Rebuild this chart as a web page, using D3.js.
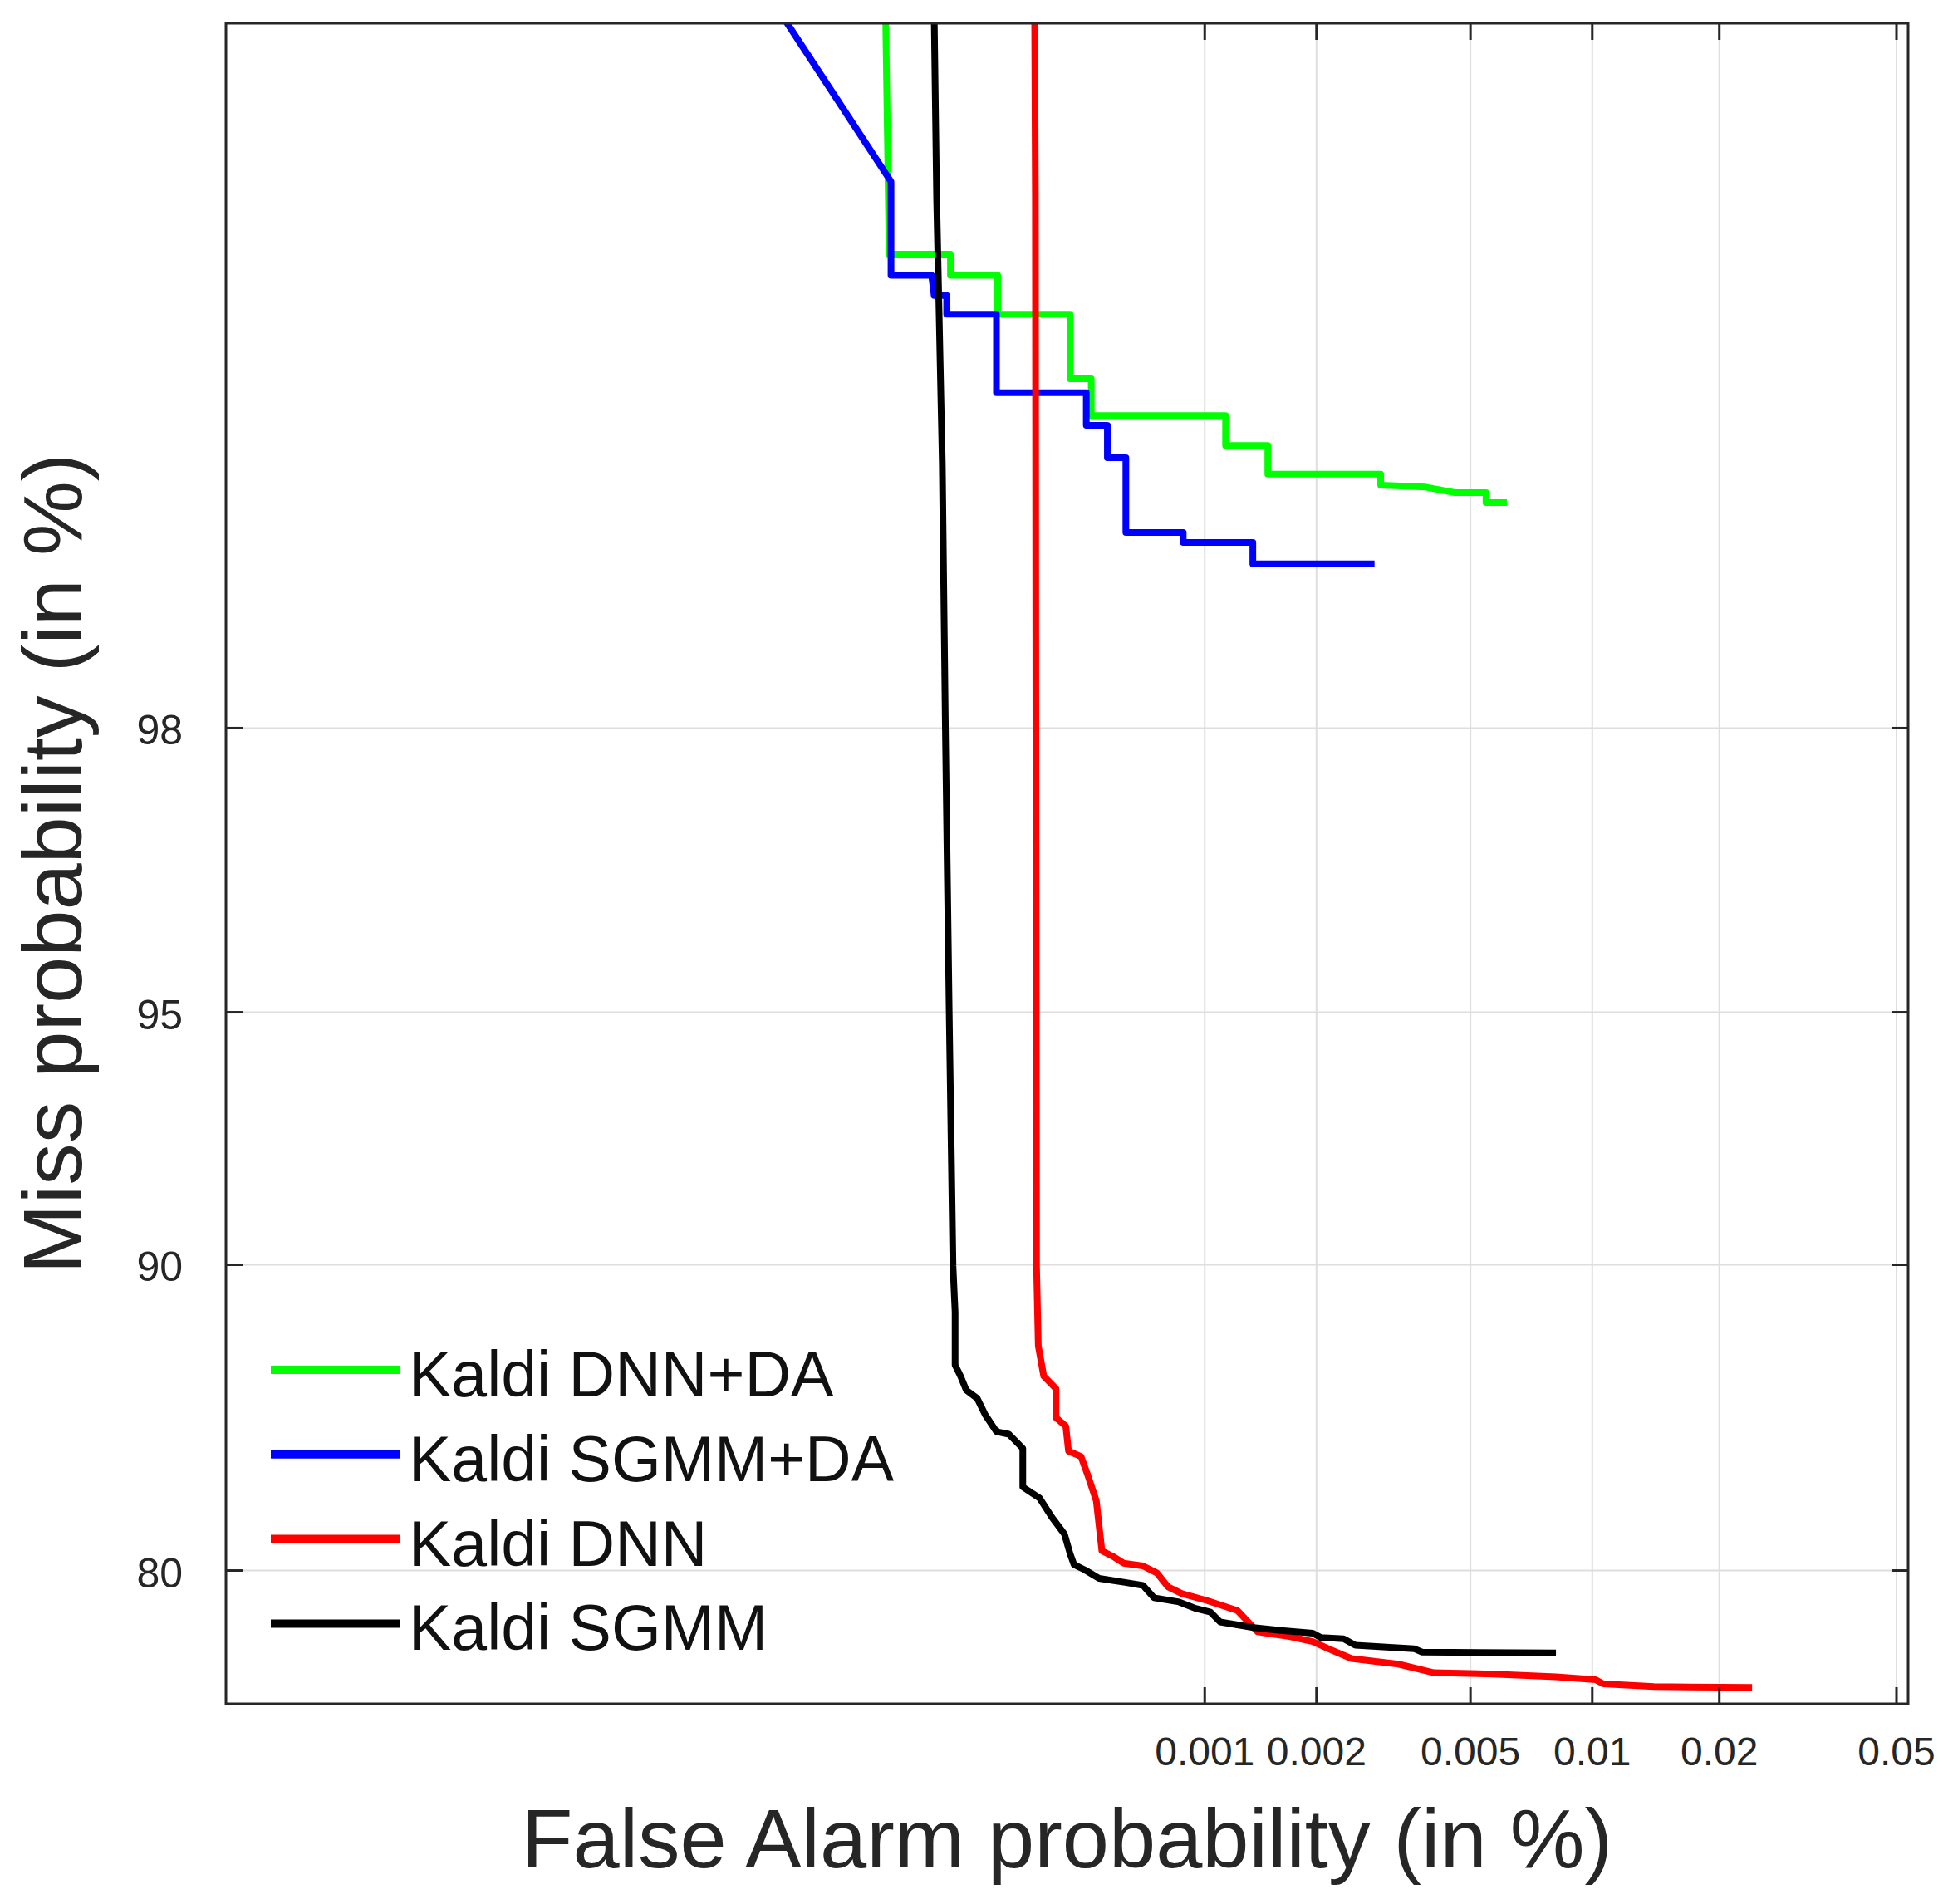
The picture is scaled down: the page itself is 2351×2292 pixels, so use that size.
<!DOCTYPE html>
<html>
<head>
<meta charset="utf-8">
<script src="https://cdn.jsdelivr.net/npm/d3@7"></script>
<style>
  body{margin:0;background:#fff;}
  svg{display:block;}
  text{font-family:"Liberation Sans", Arial, Helvetica, sans-serif;}
</style>
</head>
<body>
<div id="container"></div>
<script>
let w = 2351;
let h = 2292;

// plot box
let x0 = 272, x1 = 2297, y0 = 28, y1 = 2051;

// axis limits (in %)
let faLimits = [8.36e-7, 0.0531];
let missLimits = [74.19, 99.892];

// ticks
let faTicks = [0.001, 0.002, 0.005, 0.01, 0.02, 0.05];
let faTickLabels = ["0.001", "0.002", "0.005", "0.01", "0.02", "0.05"];
let missTicks = [80, 90, 95, 98];
let missTickLabels = ["80", "90", "95", "98"];

// series (false alarm %, miss %)
let seriesNames = ["Kaldi DNN+DA", "Kaldi SGMM+DA", "Kaldi DNN", "Kaldi SGMM"];
let seriesColors = ["#00ff00", "#0000ff", "#ff0000", "#000000"];

let dnnDaFA = [1.215e-4, 1.246e-4, 1.896e-4, 1.896e-4, 2.608e-4, 2.608e-4, 4.213e-4, 4.213e-4, 4.841e-4, 4.841e-4,
  1.143e-3, 1.143e-3, 1.487e-3, 1.487e-3, 2.954e-3, 2.954e-3, 3.857e-3, 4.574e-3, 5.483e-3, 5.483e-3, 6.183e-3];
let dnnDaMiss = [99.9, 99.688, 99.688, 99.658, 99.658, 99.596, 99.596, 99.470, 99.470, 99.384,
  99.384, 99.305, 99.305, 99.221, 99.221, 99.186, 99.180, 99.162, 99.162, 99.129, 99.129];

let sgmmDaFA = [5.935e-5, 1.262e-4, 1.262e-4, 1.668e-4, 1.697e-4, 1.848e-4, 1.848e-4, 2.586e-4, 2.586e-4, 4.687e-4,
  4.687e-4, 5.377e-4, 5.377e-4, 6.061e-4, 6.061e-4, 8.750e-4, 8.750e-4, 1.355e-3, 1.355e-3, 2.847e-3];
let sgmmDaMiss = [99.895, 99.774, 99.658, 99.658, 99.627, 99.627, 99.596, 99.596, 99.439, 99.439,
  99.359, 99.359, 99.270, 99.270, 99.022, 99.022, 98.984, 98.984, 98.897, 98.897];

let dnnFA = [3.336e-4, 3.353e-4, 3.364e-4, 3.378e-4, 3.418e-4, 3.543e-4, 3.843e-4, 3.843e-4, 4.098e-4, 4.172e-4,
  4.529e-4, 4.741e-4, 5.004e-4, 5.188e-4, 5.568e-4, 5.974e-4, 6.766e-4, 7.392e-4, 7.937e-4, 8.680e-4,
  1.018e-3, 1.231e-3, 1.397e-3, 1.702e-3, 1.960e-3, 2.154e-3, 2.477e-3, 3.282e-3, 4.049e-3, 5.718e-3,
  8.176e-3, 1.021e-2, 1.066e-2, 1.409e-2, 2.385e-2];
let dnnMiss = [99.897, 99.757, 97.996, 89.96, 87.786, 86.879, 86.490, 85.561, 85.287, 84.444,
  84.252, 83.573, 82.671, 80.772, 80.550, 80.277, 80.168, 79.888, 79.321, 79.036,
  78.749, 78.330, 77.419, 77.215, 76.994, 76.685, 76.249, 76.0, 75.616, 75.554,
  75.429, 75.299, 75.107, 74.983, 74.943];

let sgmmFA = [1.697e-4, 1.726e-4, 1.794e-4, 1.832e-4, 1.880e-4, 1.929e-4, 1.957e-4, 1.957e-4, 2.030e-4, 2.110e-4,
  2.272e-4, 2.400e-4, 2.586e-4, 2.811e-4, 3.084e-4, 3.084e-4, 3.448e-4, 3.742e-4, 4.061e-4, 4.213e-4,
  4.325e-4, 4.653e-4, 5.093e-4, 6.085e-4, 6.766e-4, 7.264e-4, 8.523e-4, 9.412e-4, 1.040e-3, 1.105e-3,
  1.360e-3, 1.612e-3, 1.960e-3, 2.055e-3, 2.364e-3, 2.537e-3, 3.602e-3, 3.776e-3, 8.176e-3];
let sgmmMiss = [99.897, 99.757, 99.252, 97.996, 95.0, 89.96, 88.741, 87.214, 86.879, 86.447,
  86.187, 85.652, 85.102, 85.016, 84.538, 83.178, 82.773, 82.051, 81.421, 80.663,
  80.223, 80.0, 79.663, 79.490, 79.378, 78.864, 78.691, 78.435, 78.262, 77.844,
  77.602, 77.478, 77.360, 77.177, 77.118, 76.834, 76.685, 76.536, 76.497];

let seriesFA = [dnnDaFA, sgmmDaFA, dnnFA, sgmmFA];
let seriesMiss = [dnnDaMiss, sgmmDaMiss, dnnMiss, sgmmMiss];

// inverse of the normal cdf (Acklam)
function probit(p){
  let a = [-3.969683028665376e+01, 2.209460984245205e+02, -2.759285104469687e+02, 1.383577518672690e+02, -3.066479806614716e+01, 2.506628277459239e+00];
  let b = [-5.447609879822406e+01, 1.615858368580409e+02, -1.556989798598866e+02, 6.680131188771972e+01, -1.328068155288572e+01];
  let c = [-7.784894002430293e-03, -3.223964580411365e-01, -2.400758277161838e+00, -2.549732539343734e+00, 4.374664141464968e+00, 2.938163982698783e+00];
  let d = [7.784695709041462e-03, 3.224671290700398e-01, 2.445134137142996e+00, 3.754408145901500e+00];
  let pl = 0.02425;
  let q, r;
  if(p < pl){
    q = Math.sqrt(-2*Math.log(p));
    return (((((c[0]*q+c[1])*q+c[2])*q+c[3])*q+c[4])*q+c[5]) / ((((d[0]*q+d[1])*q+d[2])*q+d[3])*q+1);
  }
  if(p > 1-pl){
    q = Math.sqrt(-2*Math.log(1-p));
    return -(((((c[0]*q+c[1])*q+c[2])*q+c[3])*q+c[4])*q+c[5]) / ((((d[0]*q+d[1])*q+d[2])*q+d[3])*q+1);
  }
  q = p - 0.5;
  r = q*q;
  return (((((a[0]*r+a[1])*r+a[2])*r+a[3])*r+a[4])*r+a[5])*q / (((((b[0]*r+b[1])*r+b[2])*r+b[3])*r+b[4])*r+1);
}

let viz = d3.select("#container")
  .append("svg")
    .attr("width", w)
    .attr("height", h)
    .style("background-color", "#ffffff")
;

// normal deviate scales
let x = d3.scaleLinear()
  .domain(faLimits.map(v => probit(v/100)))
  .range([x0, x1]);
let y = d3.scaleLinear()
  .domain(missLimits.map(v => probit(v/100)))
  .range([y1, y0]);

let xTickVals = faTicks.map(v => probit(v/100));
let yTickVals = missTicks.map(v => probit(v/100));

// grid
viz.append("g")
  .attr("transform", "translate(0," + y1 + ")")
  .call(d3.axisBottom(x).tickValues(xTickVals).tickFormat("").tickSize(-(y1-y0)))
  .call(g => g.select(".domain").remove())
  .call(g => g.selectAll("line").attr("stroke", "#dedede").attr("stroke-width", 2));
viz.append("g")
  .attr("transform", "translate(" + x0 + ",0)")
  .call(d3.axisLeft(y).tickValues(yTickVals).tickFormat("").tickSize(-(x1-x0)))
  .call(g => g.select(".domain").remove())
  .call(g => g.selectAll("line").attr("stroke", "#dedede").attr("stroke-width", 2));

// curves
viz.append("clipPath").attr("id", "plotclip")
  .append("rect")
    .attr("x", x0).attr("y", y0)
    .attr("width", x1-x0).attr("height", y1-y0);

let line = d3.line()
  .x(d => x(probit(d[0]/100)))
  .y(d => y(probit(d[1]/100)));

let curves = viz.append("g").attr("clip-path", "url(#plotclip)");
seriesNames.forEach(function(name, i){
  let pts = seriesFA[i].map((v, j) => [v, seriesMiss[i][j]]);
  curves.append("path")
    .datum(pts)
    .attr("d", line)
    .attr("fill", "none")
    .attr("stroke", seriesColors[i])
    .attr("stroke-width", 8)
    .attr("stroke-linejoin", "round")
    .attr("stroke-linecap", "butt");
});

// axes with inward ticks
function styleAxis(g){
  g.select(".domain").remove();
  g.selectAll(".tick line").attr("stroke", "#262626").attr("stroke-width", 3);
  g.selectAll(".tick text").attr("fill", "#262626");
}

viz.append("g")
  .attr("transform", "translate(0," + y1 + ")")
  .call(d3.axisBottom(x).tickValues(xTickVals).tickFormat((d, i) => faTickLabels[i]).tickSize(-20).tickPadding(40))
  .call(styleAxis)
  .call(g => g.selectAll(".tick text").style("font-size", "48px"));

viz.append("g")
  .attr("transform", "translate(0," + y0 + ")")
  .call(d3.axisTop(x).tickValues(xTickVals).tickFormat("").tickSize(-20))
  .call(styleAxis);

viz.append("g")
  .attr("transform", "translate(" + x0 + ",0)")
  .call(d3.axisLeft(y).tickValues(yTickVals).tickFormat((d, i) => missTickLabels[i]).tickSize(-20).tickPadding(52))
  .call(styleAxis)
  .call(g => g.selectAll(".tick text").style("font-size", "50px").attr("dy", "0.4em"));

viz.append("g")
  .attr("transform", "translate(" + x1 + ",0)")
  .call(d3.axisRight(y).tickValues(yTickVals).tickFormat("").tickSize(-20))
  .call(styleAxis);

// box
viz.append("rect")
  .attr("x", x0).attr("y", y0)
  .attr("width", x1-x0).attr("height", y1-y0)
  .attr("fill", "none")
  .attr("stroke", "#262626")
  .attr("stroke-width", 3);

// axis titles
viz.append("text")
  .attr("x", (x0+x1)/2)
  .attr("y", 2248)
  .attr("text-anchor", "middle")
  .attr("fill", "#262626")
  .style("font-size", "101px")
  .text("False Alarm probability (in %)");

viz.append("text")
  .attr("transform", "translate(98," + (y0+y1)/2 + ") rotate(-90)")
  .attr("text-anchor", "middle")
  .attr("fill", "#262626")
  .style("font-size", "101px")
  .text("Miss probability (in %)");

// legend
let legend = viz.append("g").attr("class", "legend");
seriesNames.forEach(function(name, i){
  let ly = 1649 + i*101.8;
  legend.append("line")
    .attr("x1", 326).attr("x2", 482)
    .attr("y1", ly).attr("y2", ly)
    .attr("stroke", seriesColors[i])
    .attr("stroke-width", 10);
  legend.append("text")
    .attr("x", 492)
    .attr("y", ly + 32)
    .attr("fill", "#111111")
    .style("font-size", "77px")
    .text(name);
});
</script>
</body>
</html>
